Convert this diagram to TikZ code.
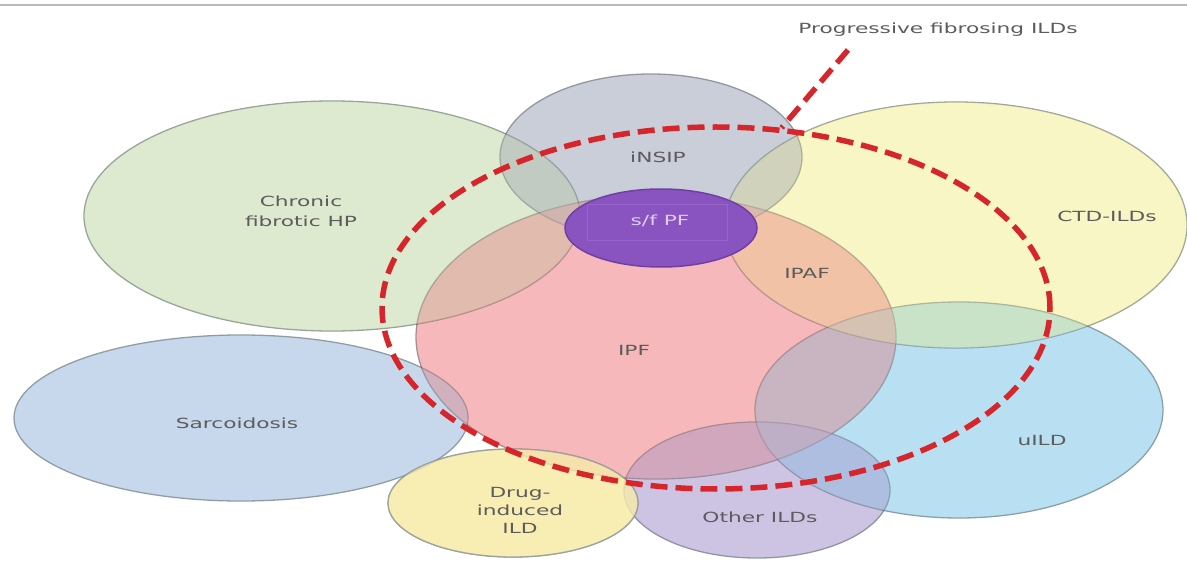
\documentclass[tikz,border=0pt]{standalone}
\usepackage{fontspec}
\setmainfont{DejaVu Sans}
\usepackage{graphicx}
\usetikzlibrary{shapes.geometric}
\definecolor{hpc}{RGB}{222,234,207}
\definecolor{insipc}{RGB}{202,206,216}
\definecolor{ctdc}{RGB}{248,246,196}
\definecolor{ipfc}{RGB}{246,184,186}
\definecolor{sarc}{RGB}{200,216,236}
\definecolor{uildc}{RGB}{184,224,242}
\definecolor{drugc}{RGB}{248,238,180}
\definecolor{otherc}{RGB}{205,196,228}
\definecolor{sfc}{RGB}{138,84,192}
\definecolor{sfedge}{RGB}{112,62,165}
\definecolor{sfin}{RGB}{150,100,202}
\definecolor{edgec}{RGB}{150,158,158}
\definecolor{pfred}{RGB}{214,38,44}
\definecolor{txtc}{RGB}{92,92,92}
\definecolor{sftxt}{RGB}{222,205,242}
\definecolor{topc}{RGB}{185,185,185}
\newcommand\hstr[1]{\scalebox{1.55}[1]{#1}}
\begin{document}
\begin{tikzpicture}[x=1pt,y=-1pt,
  venn/.style={ellipse, draw=edgec, line width=1.3pt, inner sep=0pt, outer sep=0pt},
  lite/.style={fill opacity=0.32},
  lbl/.style={text=txtc, font=\fontsize{14}{20}\selectfont, align=center, inner sep=0pt},
  pfline/.style={draw=pfred, line width=5.5pt, dash pattern=on 17pt off 8pt}]
\useasboundingbox (0,0) rectangle (1187,561);
\fill[white] (0,0) rectangle (1187,561);
\draw[topc, line width=2pt] (0,5) -- (1187,5);

% base shapes, overlaps darkened by multiplying
\begin{scope}[blend group=multiply]
\node[venn, fill=hpc, minimum width=496pt, minimum height=230pt] (hp) at (332,216) {};
\node[venn, fill=sarc, minimum width=454pt, minimum height=166pt] (sar) at (241,418) {};
\node[venn, fill=uildc, minimum width=408pt, minimum height=216pt] (uild) at (959,410) {};
\node[venn, fill=ctdc, minimum width=462pt, minimum height=246pt] (ctd) at (956,225) {};
\node[venn, fill=insipc, minimum width=302pt, minimum height=166pt] (insip) at (651,157) {};
\node[venn, fill=ipfc, minimum width=480pt, minimum height=284pt] (ipf) at (656,337) {};
\node[venn, fill=otherc, minimum width=266pt, minimum height=136pt] (other) at (757,490) {};
\node[venn, fill=drugc, minimum width=250pt, minimum height=108pt] (drug) at (513,503) {};
\end{scope}

% lighten the overlaps a little (single regions keep their colour)
\fill[hpc, lite] (hp.center) ellipse [x radius=248pt, y radius=115pt];
\fill[sarc, lite] (sar.center) ellipse [x radius=227pt, y radius=83pt];
\fill[uildc, lite] (uild.center) ellipse [x radius=204pt, y radius=108pt];
\fill[ctdc, lite] (ctd.center) ellipse [x radius=231pt, y radius=123pt];
\fill[insipc, lite] (insip.center) ellipse [x radius=151pt, y radius=83pt];
\fill[ipfc, lite] (ipf.center) ellipse [x radius=240pt, y radius=142pt];
\fill[otherc, lite] (other.center) ellipse [x radius=133pt, y radius=68pt];
\fill[drugc, fill opacity=0.8] (drug.center) ellipse [x radius=125pt, y radius=54pt];
\draw[edgec, line width=1.3pt, draw opacity=0.8] (drug.center) ellipse [x radius=125pt, y radius=54pt];

\node[ellipse, fill=sfc, draw=sfedge, line width=1.5pt, inner sep=0pt,
  minimum width=192pt, minimum height=78pt] (sf) at (661,228) {};
\node[draw=sfin, line width=1pt, inner sep=0pt, minimum width=140pt, minimum height=36pt] (sfbox) at (657,223) {};

\node[ellipse, pfline, inner sep=0pt, minimum width=668pt, minimum height=362pt] (pf) at (716,308) {};
\coordinate (pfend) at (848,50);
\draw[pfline] (pfend) -- (pf.70);

\node[lbl] (hpL) at (301,211) {\hstr{Chronic}\\\hstr{fibrotic HP}};
\node[lbl] (insipL) at (658,157) {\hstr{iNSIP}};
\node[lbl, text=sftxt] (sfL) at (660,221) {\hstr{s/f PF}};
\node[lbl] (ctdL) at (1107,216) {\hstr{CTD-ILDs}};
\node[lbl] (ipafL) at (807,273) {\hstr{IPAF}};
\node[lbl] (ipfL) at (634,350) {\hstr{IPF}};
\node[lbl] (sarL) at (237,423) {\hstr{Sarcoidosis}};
\node[lbl] (uildL) at (1042,440) {\hstr{uILD}};
\node[lbl, font=\fontsize{14}{18}\selectfont] (drugL) at (520,510) {\hstr{Drug-}\\\hstr{induced}\\\hstr{ILD}};
\node[lbl] (otherL) at (760,517) {\hstr{Other ILDs}};
\node[lbl] (pfL) at (938,30) {\hstr{Progressive fibrosing ILDs}};
\end{tikzpicture}
\end{document}
